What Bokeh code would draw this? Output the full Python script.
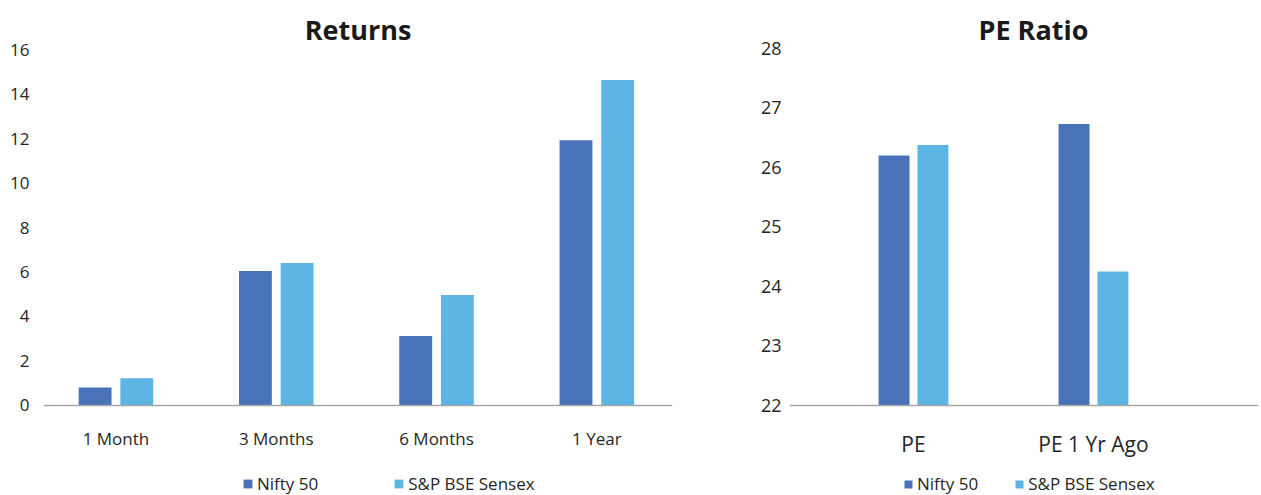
from bokeh.plotting import figure
from bokeh.models import ColumnDataSource, FixedTicker, Legend, LegendItem, Title, Range1d
from bokeh.layouts import row
from bokeh.embed import file_html
from bokeh.resources import INLINE

# ---- data ----
ret_categories = ["1 Month", "3 Months", "6 Months", "1 Year"]
ret_nifty = [0.81, 6.05, 3.12, 11.92]
ret_sensex = [1.22, 6.41, 4.97, 14.63]
ret_ticks = [0, 2, 4, 6, 8, 10, 12, 14, 16]

pe_categories = ["PE", "PE 1 Yr Ago"]
pe_nifty = [26.2, 26.73]
pe_sensex = [26.38, 24.25]
pe_ticks = [22, 23, 24, 25, 26, 27, 28]

series_names = ["Nifty 50", "S&P BSE Sensex"]

C_NIFTY = "#4A72B8"
C_SENSEX = "#5DB5E5"
TXT = "#262626"
FONT = "Open Sans"
H = 495


def make_chart(title, cats, a, b, ticks, width, mbl, mbr, xr, yr, bar_w, off,
               ytick_size, xtick_size, ystand, xstand, leg_x, leg_spacing, glyph,
               title_align, title_offset):
    p = figure(width=width, height=H, output_backend="svg", toolbar_location=None,
               x_range=Range1d(*xr), y_range=Range1d(*yr),
               min_border_left=mbl, min_border_right=mbr, min_border_top=48,
               min_border_bottom=0, outline_line_color=None)
    t = Title(text=title, align=title_align, text_font_size="27px", text_font_style="bold",
              text_color="#1a1a1a", text_font=FONT, standoff=2, offset=title_offset)
    p.add_layout(t, "above")
    base = ticks[0]
    xs = [i + 0.5 for i in range(len(cats))]
    src = ColumnDataSource(dict(x1=[x - off for x in xs], x2=[x + off for x in xs], a=a, b=b))
    r1 = p.vbar(x="x1", top="a", bottom=base, width=bar_w, source=src, fill_color=C_NIFTY, line_color=None)
    r2 = p.vbar(x="x2", top="b", bottom=base, width=bar_w, source=src, fill_color=C_SENSEX, line_color=None)

    p.xgrid.visible = False
    p.ygrid.visible = False

    xa = p.xaxis[0]
    xa.fixed_location = base
    xa.ticker = FixedTicker(ticks=xs)
    xa.major_label_overrides = {x: c for x, c in zip(xs, cats)}
    xa.axis_line_color = "#A6A6A6"
    xa.axis_line_width = 1.5
    xa.major_tick_out = 0
    xa.major_tick_in = 0
    xa.major_tick_line_color = None
    xa.minor_tick_line_color = None
    xa.major_label_text_font = FONT
    xa.major_label_text_font_size = xtick_size
    xa.major_label_text_color = TXT
    xa.major_label_standoff = xstand

    ya = p.yaxis[0]
    ya.ticker = FixedTicker(ticks=ticks)
    ya.axis_line_color = None
    ya.major_tick_out = 0
    ya.major_tick_in = 0
    ya.major_tick_line_color = None
    ya.minor_tick_line_color = None
    ya.major_label_text_font = FONT
    ya.major_label_text_font_size = ytick_size
    ya.major_label_text_color = TXT
    ya.major_label_standoff = ystand

    legend = Legend(items=[LegendItem(label=series_names[0], renderers=[r1]),
                           LegendItem(label=series_names[1], renderers=[r2])],
                    orientation="horizontal", location=(leg_x, 0),
                    glyph_width=glyph, glyph_height=glyph, label_standoff=4,
                    spacing=leg_spacing, padding=0, margin=0,
                    label_text_font=FONT, label_text_font_size="17px",
                    label_text_color=TXT, border_line_color=None,
                    background_fill_alpha=0, label_height=16)
    p.add_layout(legend, "center")
    return p


# frame: top at 48px, value-0 / value-22 baseline near 405px, frame bottom at 495px
left = make_chart("Returns", ret_categories, ret_nifty, ret_sensex, ret_ticks,
                  width=700, mbl=43, mbr=28, xr=(0.048, 3.972), yr=(-4.045, 16.045),
                  bar_w=0.205, off=0.13, ytick_size="17px", xtick_size="17px",
                  ystand=14, xstand=22, leg_x=199, leg_spacing=75, glyph=11,
                  title_align="center", title_offset=0)
right = make_chart("PE Ratio", pe_categories, pe_nifty, pe_sensex, pe_ticks,
                   width=561, mbl=89, mbr=3, xr=(-0.189, 2.417), yr=(20.487, 28.0),
                   bar_w=0.172, off=0.108, ytick_size="18px", xtick_size="21px",
                   ystand=8, xstand=25, leg_x=114, leg_spacing=36, glyph=10,
                   title_align="left", title_offset=189)

layout = row(left, right)
open("out.html", "w").write(file_html(layout, INLINE))
